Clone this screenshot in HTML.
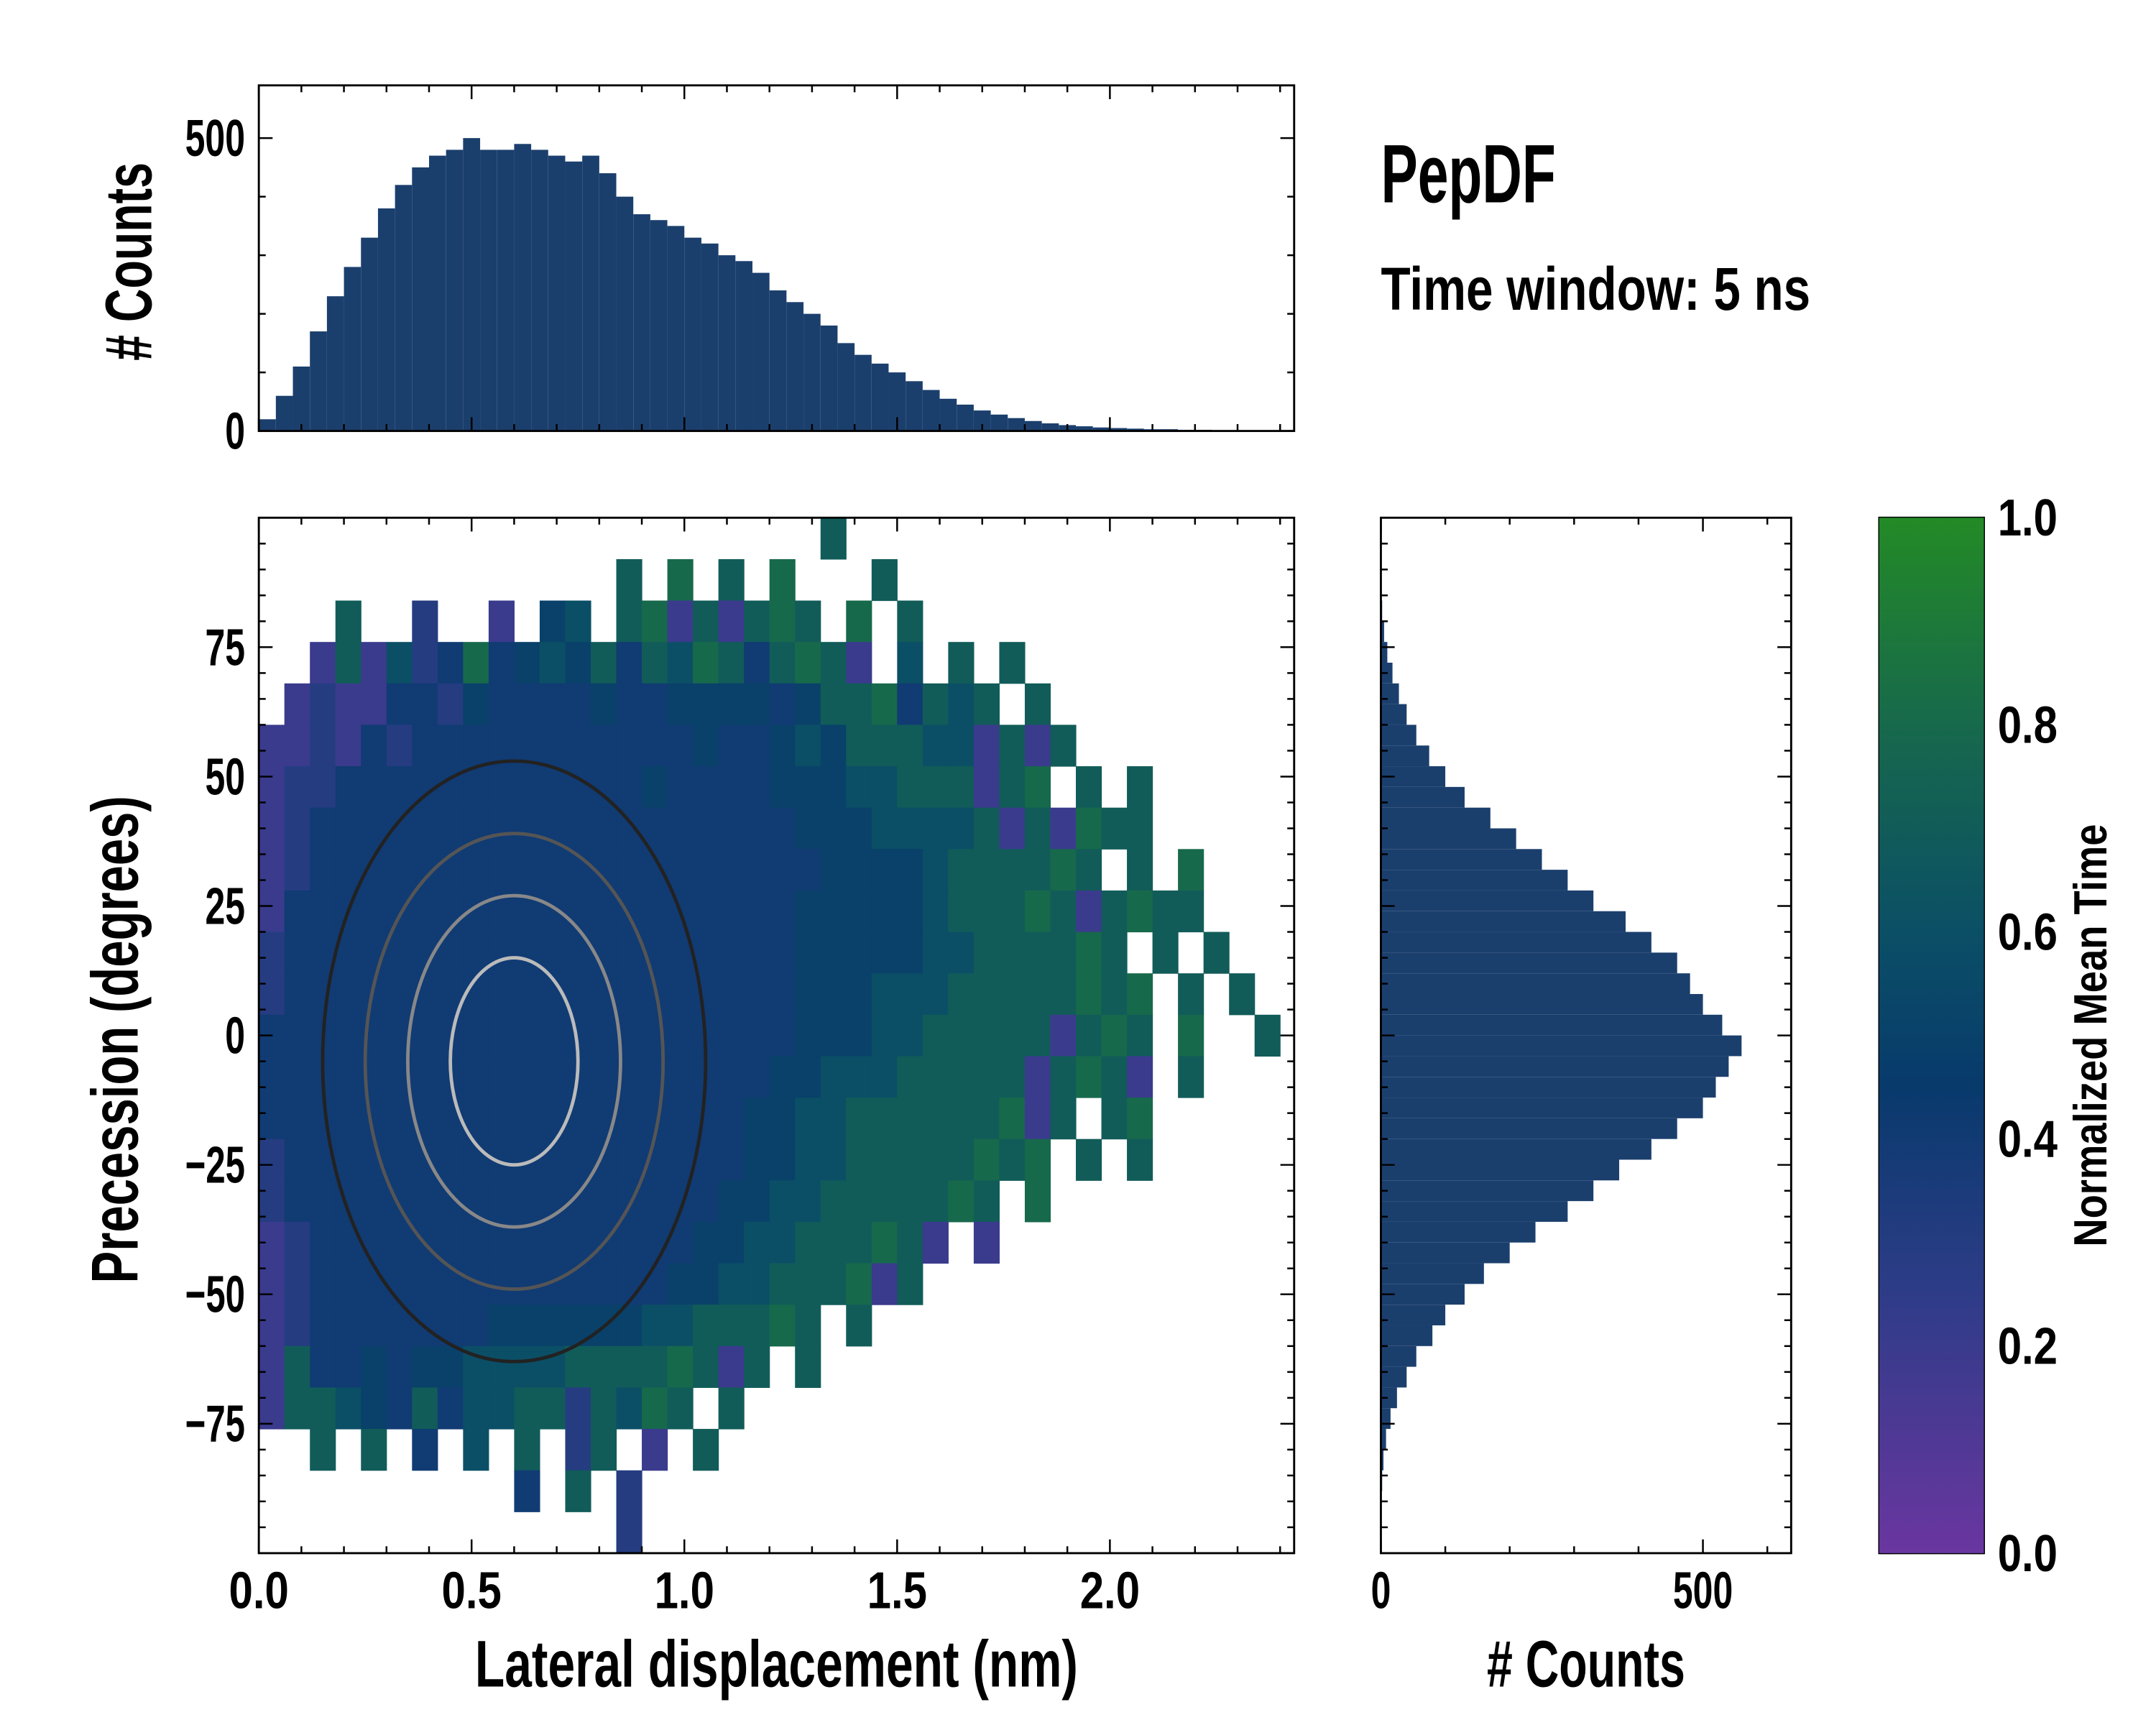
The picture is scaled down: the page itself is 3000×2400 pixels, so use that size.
<!DOCTYPE html>
<html><head><meta charset="utf-8">
<style>
html,body{margin:0;padding:0;background:#fff;}
svg{display:block;}
text{font-family:"Liberation Sans Narrow","Liberation Sans",sans-serif;font-weight:bold;fill:#000;}
</style></head>
<body>
<svg id="fig" width="3000" height="2400" viewBox="0 0 1566 1252.8" xmlns="http://www.w3.org/2000/svg">
<defs>
<linearGradient id="cmap" x1="0" y1="1" x2="0" y2="0">
<stop offset="0" stop-color="#6a36a0"/>
<stop offset="0.25" stop-color="#2e3c88"/>
<stop offset="0.45" stop-color="#083a6c"/>
<stop offset="0.6" stop-color="#0b4f66"/>
<stop offset="0.8" stop-color="#17694c"/>
<stop offset="1" stop-color="#238a26"/>
</linearGradient>
<clipPath id="mainclip"><rect x="188" y="376" width="752" height="752"/></clipPath>
</defs>
<g id="heat" clip-path="url(#mainclip)"></g>
<g id="contours" clip-path="url(#mainclip)"></g>
<g id="tophist"></g>
<g id="righthist"></g>
<g id="axes"></g>
<rect x="1365" y="376" width="76" height="752" fill="url(#cmap)"/>
<text x="1003" y="147" font-size="60" textLength="127" lengthAdjust="spacingAndGlyphs">PepDF</text>
<text x="1003" y="225" font-size="44" textLength="312" lengthAdjust="spacingAndGlyphs">Time window: 5 ns</text>
<text x="564" y="1225" font-size="48" text-anchor="middle" textLength="438" lengthAdjust="spacingAndGlyphs">Lateral displacement (nm)</text>
<text x="1152" y="1225" font-size="48" text-anchor="middle" textLength="144" lengthAdjust="spacingAndGlyphs"># Counts</text>
<text transform="translate(100,755) rotate(-90)" font-size="48" text-anchor="middle" textLength="354" lengthAdjust="spacingAndGlyphs">Precession (degrees)</text>
<text transform="translate(110,190) rotate(-90)" font-size="48" text-anchor="middle" textLength="144" lengthAdjust="spacingAndGlyphs"># Counts</text>
<text transform="translate(1530,752) rotate(-90)" font-size="34" text-anchor="middle" textLength="307" lengthAdjust="spacingAndGlyphs">Normalized Mean Time</text>
</svg>
<script>
// ---- data ----
const heatRows = [
"......................7.................",
"..............7.8.7.8...7...............",
"...7..3..2.56.78272787.8.7",
"..2726348456574768747872.6.7.7",
".2322443544445445555457784767.7",
"22324344444444444544565777662727",
"2334444444444445444455566777278.7.7",
"23444444444444444444455566667272877",
"234444444444444444444455556777787.7.8",
"2444444444444444444445555567778727877",
"3444444444444444444445555566777787.7.7",
"34444444444444444444455566677777878.7.7",
"44444444444444444444455566777772787.8..7",
"44444444444444444444556667777727872.7",
"44444444444444444445566777777827.78",
"3444444444444444444556677777878.7.7",
"34444444444444444455667777787.8",
"234444444444444445566777872.2",
"23444444444444445566777827",
"2344444445555556677787.7",
"27445455666677778727.7",
"27765474667737687.7",
"..7.7.4.6.7.37.2.7",
"..........4.7.3",
"..............3"];
const heatX0 = 0, heatDx = 0.06, heatY0 = 100, heatDy = 8;
const topCounts = [20,60,110,170,230,280,330,380,420,450,470,480,500,480,480,490,480,470,460,470,440,400,370,360,350,330,320,300,290,270,240,220,200,180,150,130,115,100,85,70,55,45,35,28,22,17,13,10,8,6,5,4,3,3,2,2,1,1,1,1,0];
const topBinWidth = 0.04;
const rightCenters = [98,94,90,86,82,78,74,70,66,62,58,54,50,46,42,38,34,30,26,22,18,14,10,6,2,-2,-6,-10,-14,-18,-22,-26,-30,-34,-38,-42,-46,-50,-54,-58,-62,-66,-70,-74,-78,-82,-86,-90,-94,-98];
const rightCounts = [0,0,0,0,2,5,10,18,28,40,55,75,100,130,170,210,250,290,330,380,420,460,480,500,530,560,540,520,500,460,420,370,330,290,240,200,160,130,100,80,55,40,25,15,8,4,2,1,0,0];
const rightBinWidth = 4;
const contourLevels = [0.45,0.35,0.25,0.15];
const contourDeg = [58,44,32,20];
const contourColors = ["#222","#555","#888","#bbb"];
const xTicks = [0,0.5,1,1.5,2];
const xTickLabels = ["0.0","0.5","1.0","1.5","2.0"];
const yTicks = [75,50,25,0,-25,-50,-75];
const yTickLabels = ["75","50","25","0","\u221225","\u221250","\u221275"];
const cTicks = [0,0.2,0.4,0.6,0.8,1.0];
const cTickLabels = ["0.0","0.2","0.4","0.6","0.8","1.0"];
// ---- scales ----
const NS="http://www.w3.org/2000/svg";
const X=v=>188+v*(752/2.433);
const Y=v=>752-v*3.76;
const TY=c=>313-c*(251/590);
const RX=c=>1003+c*(298/637);
const CY=v=>1128-v*752;
function mk(tag,attrs,parent){const e=document.createElementNS(NS,tag);for(const k in attrs)e.setAttribute(k,attrs[k]);parent.appendChild(e);return e;}
function cmap(t){const s=[[0,[106,54,160]],[0.25,[46,60,136]],[0.45,[8,58,108]],[0.6,[11,79,102]],[0.8,[23,105,76]],[1,[35,138,38]]];
for(let i=1;i<s.length;i++){if(t<=s[i][0]){const a=s[i-1],b=s[i],f=(t-a[0])/(b[0]-a[0]);return "rgb("+a[1].map((c,j)=>Math.round(c+(b[1][j]-c)*f)).join(",")+")";}}return "rgb(35,138,38)";}
// heatmap
const heat=document.getElementById('heat');
heatRows.forEach((row,i)=>{for(let j=0;j<row.length;j++){const ch=row[j];if(ch==='.')continue;const v=+ch/10;
const x0=X(heatX0+j*heatDx),x1=X(heatX0+(j+1)*heatDx),y0=Y(heatY0-i*heatDy),y1=Y(heatY0-(i+1)*heatDy);
const r=mk('rect',{x:x0,y:y0,width:x1-x0+0.3,height:y1-y0+0.3,fill:cmap(v)},heat);

}});
// contours
const cg=document.getElementById('contours');
contourLevels.forEach((rx,i)=>{const e=mk('ellipse',{cx:X(0.6),cy:Y(-5),rx:X(rx)-X(0),ry:Y(0)-Y(contourDeg[i]),fill:'none',stroke:contourColors[i],'stroke-width':2.5},cg);

});
// top hist
const th=document.getElementById('tophist');
topCounts.forEach((c,i)=>{const x0=X(i*topBinWidth),x1=X((i+1)*topBinWidth);if(x0>=940)return;
const r=mk('rect',{x:x0,y:TY(c),width:Math.min(x1,940)-x0,height:313-TY(c),fill:'#1b3f6d'},th);

});
// right hist
const rh=document.getElementById('righthist');
rightCenters.forEach((cy,i)=>{const c=rightCounts[i];const y0=Y(cy+rightBinWidth/2),y1=Y(cy-rightBinWidth/2);
const r=mk('rect',{x:1003,y:y0,width:RX(c)-1003,height:y1-y0,fill:'#1b3f6d'},rh);

});
// axes
const ax=document.getElementById('axes');
function frame(x,y,w,h,name){const r=mk('rect',{x:x,y:y,width:w,height:h,fill:'none',stroke:'#000','stroke-width':1.5},ax);}
function line(x1,y1,x2,y2){mk('line',{x1:x1,y1:y1,x2:x2,y2:y2,stroke:'#000','stroke-width':1.3},ax);}
function label(x,y,t,anchor,name){const e=mk('text',{x:x,y:y,'font-size':38,'text-anchor':anchor,textLength:t.length*14.5,lengthAdjust:'spacingAndGlyphs'},ax);e.textContent=t;}
frame(188,376,752,752,'main-plot-frame');frame(188,62,752,251,'top-hist-frame');frame(1003,376,298,752,'right-hist-frame');frame(1365,376,76,752,'colorbar-frame');
for(let k=0;k<=24;k++){const v=k/10,x=X(v),L=(k%5===0)?10:5;
line(x,1128,x,1128-L);line(x,376,x,376+L);line(x,313,x,313-L);line(x,62,x,62+L);}
xTicks.forEach((v,i)=>label(X(v),1168,xTickLabels[i],'middle','x-tick-label'));
for(let v=-95;v<=95;v+=5){const y=Y(v),L=(v%25===0)?10:5;
line(188,y,188+L,y);line(940,y,940-L,y);line(1003,y,1003+L,y);line(1301,y,1301-L,y);}
yTicks.forEach((v,i)=>label(178,Y(v)+13,yTickLabels[i],'end','y-tick-label'));
for(let c=0;c<=500;c+=100){const y=TY(c),L=(c%500===0)?10:5;line(188,y,188+L,y);line(940,y,940-L,y);}
label(178,TY(500)+13,"500",'end','top-hist-y-tick');label(178,TY(0)+13,"0",'end','top-hist-y-tick');
for(let c=0;c<=600;c+=100){const x=RX(c),L=(c%500===0)?10:5;line(x,1128,x,1128-L);line(x,376,x,376+L);}
label(RX(0),1168,"0",'middle','right-hist-x-tick');label(RX(500),1168,"500",'middle','right-hist-x-tick');
for(let k=0;k<=20;k++){const v=k/20,y=CY(v),L=(k%4===0)?10:5;line(1441,y,1441-L,y);line(1365,y,1365+L,y);}
cTicks.forEach((v,i)=>label(1451,CY(v)+13,cTickLabels[i],'start','colorbar-tick-label'));
</script>
</body></html>
